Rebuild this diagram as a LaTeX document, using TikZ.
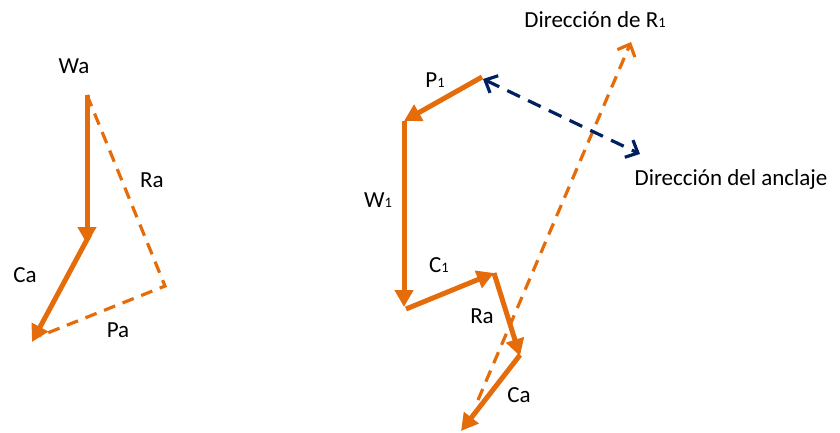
\documentclass[tikz,border=0pt]{standalone}
\usepackage{fontspec}
\setmainfont{Carlito}
\usetikzlibrary{arrows.meta}
\definecolor{org}{HTML}{E46C0A}
\definecolor{nvy}{HTML}{002060}
\newcommand{\sbo}{{\fontsize{14.5}{15}\selectfont 1}}
\begin{document}
\begin{tikzpicture}[x=1pt,y=-1pt,
  vec/.style={org,line width=5pt,-{Triangle[length=17pt,width=18pt]}},
  dvec/.style={org,line width=3.2pt,dash pattern=on 12pt off 8pt},
  barbtip/.tip={Straight Barb[length=10pt,width=19pt,line width=3.2pt]},
  lbl/.style={font=\fontsize{23}{25}\selectfont,inner sep=0pt,anchor=base}]
\useasboundingbox (0,0) rectangle (840,432);
% left diagram
\coordinate (wa0) at (87,95);
\coordinate (wa1) at (87,244);
\coordinate (ca0) at (90,234);
\coordinate (ca1) at (32,342);
\coordinate (rp) at (165,286);
\coordinate (pa1) at (40,336);
\draw[dvec] (wa0) -- (rp) -- (pa1);
\draw[vec] (wa0) -- (wa1);
\draw[vec] (ca0) -- (ca1);
\node[lbl] (lwa) at (74,73) {Wa};
\node[lbl] (lra) at (152,187) {Ra};
\node[lbl] (lca) at (25,282) {Ca};
\node[lbl] (lpa) at (118,337) {Pa};
% right diagram
\coordinate (p0) at (482,77);
\coordinate (p1) at (404,121);
\coordinate (w1) at (404,307);
\coordinate (c0) at (406,309);
\coordinate (c1) at (494,273);
\coordinate (r1) at (520,356);
\coordinate (k0) at (520,355);
\coordinate (k1) at (461,431);
\coordinate (d0) at (478,400);
\coordinate (d1) at (631,42);
\coordinate (n0) at (483,79);
\coordinate (n1) at (640,154);
\draw[dvec,-barbtip] (d0) -- (d1);
\draw[nvy,line width=3.2pt,dash pattern=on 14pt off 9pt,barbtip-barbtip] (n0) -- (n1);
\draw[vec] (p0) -- (p1);
\draw[vec] (p1) -- (w1);
\draw[vec] (c0) -- (c1);
\draw[vec] (c1) -- (r1);
\draw[vec] (k0) -- (k1);
\node[lbl] (lp1) at (435,87) {P\sbo};
\node[lbl] (lw1) at (378,207) {W\sbo};
\node[lbl] (lc1) at (439,272) {C\sbo};
\node[lbl] (lra1) at (482,323) {Ra};
\node[lbl] (lca1) at (519,402) {Ca};
\node[lbl] (lr1) at (595,27) {Dirección de R\sbo};
\node[lbl] (lan) at (731,185) {Dirección del anclaje};
\end{tikzpicture}
\end{document}
